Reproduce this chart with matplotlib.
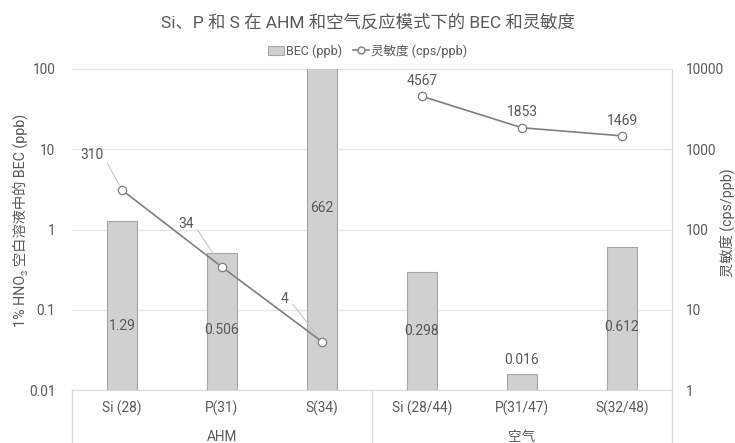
import matplotlib
matplotlib.use("Agg")
import matplotlib.pyplot as plt
import matplotlib.transforms as mtransforms
from matplotlib.lines import Line2D
from matplotlib.patches import Patch
import numpy as np

plt.rcParams['font.family'] = ['Roboto', 'Noto Sans CJK SC', 'DejaVu Sans']

# Data
categories = ["Si (28)", "P(31)", "S(34)", "Si (28/44)", "P(31/47)", "S(32/48)"]
groups = ["AHM", "空气"]
group_sizes = [3, 3]
bec = [1.29, 0.506, 662, 0.298, 0.016, 0.612]
sensitivity = [310, 34, 4, 4567, 1853, 1469]
left_ticks = [0.01, 0.1, 1, 10, 100]
left_tick_labels = ["0.01", "0.1", "1", "10", "100"]
right_ticks = [1, 10, 100, 1000, 10000]
right_tick_labels = ["1", "10", "100", "1000", "10000"]

TXT = "#595959"
GRID = "#e6e6e6"
BAR_FACE = "#d0d0d0"
BAR_EDGE = "#a5a5a5"
LINE = "#7f7f7f"

W, H = 735, 443
fig = plt.figure(figsize=(W / 100, H / 100), dpi=100)
ax = fig.add_axes([72 / W, 1 - 390 / H, 600 / W, 321 / H])
ax2 = ax.twinx()

x = np.arange(len(categories))
ax.set_xlim(-0.5, len(categories) - 0.5)
ax.set_yscale("log")
ax.set_ylim(0.01, 100)
ax2.set_yscale("log")
ax2.set_ylim(1, 10000)

# Bars start at the bottom of the log axis
ax.bar(x, np.array(bec) - 0.01, bottom=0.01, width=0.3,
       color=BAR_FACE, edgecolor=BAR_EDGE, linewidth=0.8, zorder=2)

ax.set_yticks(left_ticks)
ax.set_yticklabels(left_tick_labels)
ax.yaxis.set_minor_locator(matplotlib.ticker.NullLocator())
ax2.set_yticks(right_ticks)
ax2.set_yticklabels(right_tick_labels)
ax2.yaxis.set_minor_locator(matplotlib.ticker.NullLocator())

ax.grid(axis="y", color=GRID, linewidth=1, zorder=0)
ax.set_axisbelow(True)
ax.set_xticks([])
for a in (ax, ax2):
    for s in ["top", "left", "right", "bottom"]:
        a.spines[s].set_visible(False)
ax.spines["bottom"].set_visible(True)
ax.spines["bottom"].set_color("#d9d9d9")
ax2.spines["right"].set_visible(True)
ax2.spines["right"].set_color("#d9d9d9")
ax.tick_params(axis="y", length=0, labelsize=9.8, labelcolor=TXT, pad=12)
ax2.tick_params(axis="y", length=0, labelsize=9.8, labelcolor=TXT, pad=10)
for lbl in ax2.get_yticklabels():
    lbl.set_ha("left")

# Bar value labels (vertical position in axes fraction)
label_frac = [0.199, 0.187, 0.567, 0.184, None, 0.196]
trans = mtransforms.blended_transform_factory(ax.transData, ax.transAxes)
for xi, v, fr in zip(x, bec, label_frac):
    txt = f"{v:g}"
    if fr is None:
        ax.annotate(txt, (xi, v), xytext=(0, 5), textcoords="offset points",
                    ha="center", va="bottom", fontsize=10, color=TXT, zorder=5)
    else:
        ax.text(xi, fr, txt, transform=trans, ha="center", va="center",
                fontsize=10, color=TXT, zorder=5)

# Sensitivity line, drawn per group
start = 0
for n in group_sizes:
    sl = slice(start, start + n)
    ax2.plot(x[sl], sensitivity[sl], color=LINE, linewidth=1.2, marker="o",
             markersize=6, markerfacecolor="white", markeredgecolor=LINE,
             markeredgewidth=0.9, zorder=4)
    start += n

# Sensitivity labels: leader lines for the first group, above points for the second
leader_offsets = [(-22, 25), (-26, 31), (-27, 31)]
for i in range(3):
    ax2.annotate(f"{sensitivity[i]:g}", (x[i], sensitivity[i]),
                 xytext=leader_offsets[i], textcoords="offset points",
                 ha="center", va="center", fontsize=10, color=TXT,
                 arrowprops=dict(arrowstyle="-", color="#c8c8c8", lw=0.8,
                                 shrinkA=2, shrinkB=4, relpos=(1, 0.5)),
                 zorder=5)
for i in range(3, 6):
    ax2.annotate(f"{sensitivity[i]:g}", (x[i], sensitivity[i]),
                 xytext=(0, 6), textcoords="offset points",
                 ha="center", va="bottom", fontsize=10, color=TXT, zorder=5)

# Category and group labels below the axis
btrans = mtransforms.blended_transform_factory(ax.transData, ax.transAxes)
for xi, c in zip(x, categories):
    ax.text(xi, -0.057, c, transform=btrans, ha="center", va="center",
            fontsize=9.8, color=TXT, clip_on=False)
start = 0
bounds = [-0.5]
for g, n in zip(groups, group_sizes):
    center = start + (n - 1) / 2
    ax.text(center, -0.145, g, transform=btrans, ha="center", va="center",
            fontsize=9.8, color=TXT, clip_on=False)
    start += n
    bounds.append(start - 0.5)
for b in bounds:
    ax.add_line(Line2D([b, b], [0, -0.17], transform=btrans, color="#d9d9d9",
                       linewidth=1, clip_on=False))

# Axis titles
fig.text(20 / W, 1 - 220 / H, "1% HNO₃ 空白溶液中的 BEC (ppb)", rotation=90,
         ha="center", va="center", fontsize=10.3, color=TXT)
fig.text(727 / W, 1 - 223 / H, "灵敏度 (cps/ppb)", rotation=90,
         ha="center", va="center", fontsize=10.3, color=TXT)

fig.text(0.5, 1 - 22 / H, "Si、P 和 S 在 AHM 和空气反应模式下的 BEC 和灵敏度",
         ha="center", va="center", fontsize=12.5, color=TXT)

handles = [Patch(facecolor=BAR_FACE, edgecolor=BAR_EDGE, linewidth=0.8),
           Line2D([], [], color=LINE, linewidth=1.2, marker="o", markersize=5,
                  markerfacecolor="white", markeredgecolor=LINE)]
fig.legend(handles, ["BEC (ppb)", "灵敏度 (cps/ppb)"], loc="center",
           bbox_to_anchor=(0.5, 1 - 51 / H), ncol=2, frameon=False,
           fontsize=9, labelcolor=TXT, handlelength=1.3, handletextpad=0.2,
           columnspacing=0.8, handleheight=0.7)

fig.savefig("out.png", dpi=100)
